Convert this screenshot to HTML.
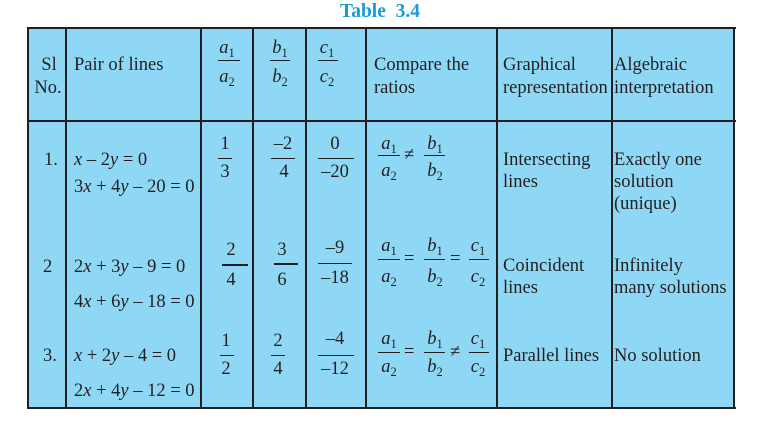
<!DOCTYPE html>
<html><head><meta charset="utf-8"><style>
body{margin:0;width:759px;height:423px;background:#fff;position:relative;overflow:hidden;font-family:"Liberation Serif",serif;color:#231f20}
.t{position:absolute;font-size:18.5px;line-height:20px;white-space:nowrap}
.c{transform:translateX(-50%)}
i{font-style:italic}
sub{font-size:12.5px;vertical-align:-4px;line-height:0}
.h{position:absolute;background:#231f20}
.l{position:absolute;height:1px;background:#231f20}
</style></head><body>
<div class="t" style="left:340px;top:2px;font-size:19.5px;font-weight:bold;color:#1a9ad6">Table&nbsp;&nbsp;3.4</div>
<div style="position:absolute;left:28px;top:28px;width:707px;height:381px;background:#8fd8f5"></div>
<div class="h" style="left:27px;top:27px;width:709px;height:2px"></div>
<div class="h" style="left:27px;top:120px;width:709px;height:2px"></div>
<div class="h" style="left:27px;top:407px;width:709px;height:2px"></div>
<div class="h" style="left:27px;top:27px;width:2px;height:382px"></div>
<div class="h" style="left:65px;top:27px;width:2px;height:382px"></div>
<div class="h" style="left:200px;top:27px;width:2px;height:382px"></div>
<div class="h" style="left:252px;top:27px;width:2px;height:382px"></div>
<div class="h" style="left:305px;top:27px;width:2px;height:382px"></div>
<div class="h" style="left:365px;top:27px;width:2px;height:382px"></div>
<div class="h" style="left:496px;top:27px;width:2px;height:382px"></div>
<div class="h" style="left:611px;top:27px;width:2px;height:382px"></div>
<div class="h" style="left:733px;top:27px;width:2px;height:382px"></div>

<div class="t c" style="left:49px;top:55px">Sl</div>
<div class="t c" style="left:48px;top:78px">No.</div>
<div class="t" style="left:74px;top:55px">Pair of lines</div>
<div class="t c" style="left:227px;top:38px"><i>a</i><sub>1</sub></div><div class="l" style="left:218px;top:60px;width:22px"></div><div class="t c" style="left:227px;top:67px"><i>a</i><sub>2</sub></div>
<div class="t c" style="left:280px;top:38px"><i>b</i><sub>1</sub></div><div class="l" style="left:270px;top:60px;width:20px"></div><div class="t c" style="left:280px;top:67px"><i>b</i><sub>2</sub></div>
<div class="t c" style="left:327px;top:38px"><i>c</i><sub>1</sub></div><div class="l" style="left:318px;top:60px;width:20px"></div><div class="t c" style="left:327px;top:67px"><i>c</i><sub>2</sub></div>
<div class="t" style="left:374px;top:55px">Compare the</div>
<div class="t" style="left:374px;top:78px">ratios</div>
<div class="t" style="left:503px;top:55px">Graphical</div>
<div class="t" style="left:503px;top:78px">representation</div>
<div class="t" style="left:614px;top:55px">Algebraic</div>
<div class="t" style="left:614px;top:78px">interpretation</div>

<div class="t" style="left:44px;top:150px">1.</div>
<div class="t" style="left:74px;top:150px"><i>x</i> – 2<i>y</i> = 0</div>
<div class="t" style="left:74px;top:177px">3<i>x</i> + 4<i>y</i> – 20 = 0</div>
<div class="t c" style="left:225px;top:134px">1</div><div class="l" style="left:218px;top:158px;width:14px"></div><div class="t c" style="left:225px;top:162px">3</div>
<div class="t c" style="left:283px;top:134px">–2</div><div class="l" style="left:271px;top:158px;width:24px"></div><div class="t c" style="left:284px;top:162px">4</div>
<div class="t c" style="left:335px;top:134px">0</div><div class="l" style="left:318px;top:158px;width:36px"></div><div class="t c" style="left:335px;top:162px">–20</div>
<div class="t c" style="left:389px;top:134px"><i>a</i><sub>1</sub></div><div class="l" style="left:378px;top:155px;width:22px"></div><div class="t c" style="left:389px;top:161px"><i>a</i><sub>2</sub></div>
<div class="t" style="left:404px;top:145px">≠</div>
<div class="t c" style="left:435px;top:134px"><i>b</i><sub>1</sub></div><div class="l" style="left:424px;top:155px;width:21px"></div><div class="t c" style="left:435px;top:161px"><i>b</i><sub>2</sub></div>
<div class="t" style="left:503px;top:150px">Intersecting</div>
<div class="t" style="left:503px;top:172px">lines</div>
<div class="t" style="left:614px;top:150px">Exactly one</div>
<div class="t" style="left:614px;top:172px">solution</div>
<div class="t" style="left:614px;top:194px">(unique)</div>

<div class="t" style="left:43px;top:257px">2</div>
<div class="t" style="left:74px;top:257px">2<i>x</i> + 3<i>y</i> – 9 = 0</div>
<div class="t" style="left:74px;top:292px">4<i>x</i> + 6<i>y</i> – 18 = 0</div>
<div class="t c" style="left:231px;top:240px">2</div><div class="h" style="left:222px;top:264px;width:26px;height:2px"></div><div class="t c" style="left:231px;top:270px">4</div>
<div class="t c" style="left:282px;top:240px">3</div><div class="h" style="left:274px;top:263px;width:24px;height:2px"></div><div class="t c" style="left:282px;top:270px">6</div>
<div class="t c" style="left:335px;top:238px">–9</div><div class="l" style="left:318px;top:263px;width:34px"></div><div class="t c" style="left:335px;top:268px">–18</div>
<div class="t c" style="left:389px;top:236px"><i>a</i><sub>1</sub></div><div class="l" style="left:378px;top:259px;width:22px"></div><div class="t c" style="left:389px;top:267px"><i>a</i><sub>2</sub></div>
<div class="t" style="left:404px;top:249px">=</div>
<div class="t c" style="left:435px;top:236px"><i>b</i><sub>1</sub></div><div class="l" style="left:424px;top:259px;width:21px"></div><div class="t c" style="left:435px;top:267px"><i>b</i><sub>2</sub></div>
<div class="t" style="left:450px;top:249px">=</div>
<div class="t c" style="left:478px;top:236px"><i>c</i><sub>1</sub></div><div class="l" style="left:469px;top:259px;width:20px"></div><div class="t c" style="left:478px;top:267px"><i>c</i><sub>2</sub></div>
<div class="t" style="left:503px;top:256px">Coincident</div>
<div class="t" style="left:503px;top:278px">lines</div>
<div class="t" style="left:614px;top:256px">Infinitely</div>
<div class="t" style="left:614px;top:278px">many solutions</div>

<div class="t" style="left:43px;top:346px">3.</div>
<div class="t" style="left:74px;top:346px"><i>x</i> + 2<i>y</i> – 4 = 0</div>
<div class="t" style="left:74px;top:381px">2<i>x</i> + 4<i>y</i> – 12 = 0</div>
<div class="t c" style="left:226px;top:331px">1</div><div class="l" style="left:220px;top:355px;width:14px"></div><div class="t c" style="left:226px;top:359px">2</div>
<div class="t c" style="left:278px;top:331px">2</div><div class="l" style="left:271px;top:355px;width:14px"></div><div class="t c" style="left:278px;top:359px">4</div>
<div class="t c" style="left:335px;top:329px">–4</div><div class="l" style="left:318px;top:355px;width:36px"></div><div class="t c" style="left:335px;top:359px">–12</div>
<div class="t c" style="left:389px;top:329px"><i>a</i><sub>1</sub></div><div class="l" style="left:378px;top:352px;width:22px"></div><div class="t c" style="left:389px;top:357px"><i>a</i><sub>2</sub></div>
<div class="t" style="left:404px;top:342px">=</div>
<div class="t c" style="left:435px;top:329px"><i>b</i><sub>1</sub></div><div class="l" style="left:424px;top:352px;width:21px"></div><div class="t c" style="left:435px;top:357px"><i>b</i><sub>2</sub></div>
<div class="t" style="left:450px;top:342px">≠</div>
<div class="t c" style="left:478px;top:329px"><i>c</i><sub>1</sub></div><div class="l" style="left:469px;top:352px;width:20px"></div><div class="t c" style="left:478px;top:357px"><i>c</i><sub>2</sub></div>
<div class="t" style="left:503px;top:346px">Parallel lines</div>
<div class="t" style="left:614px;top:346px">No solution</div>
</body></html>
